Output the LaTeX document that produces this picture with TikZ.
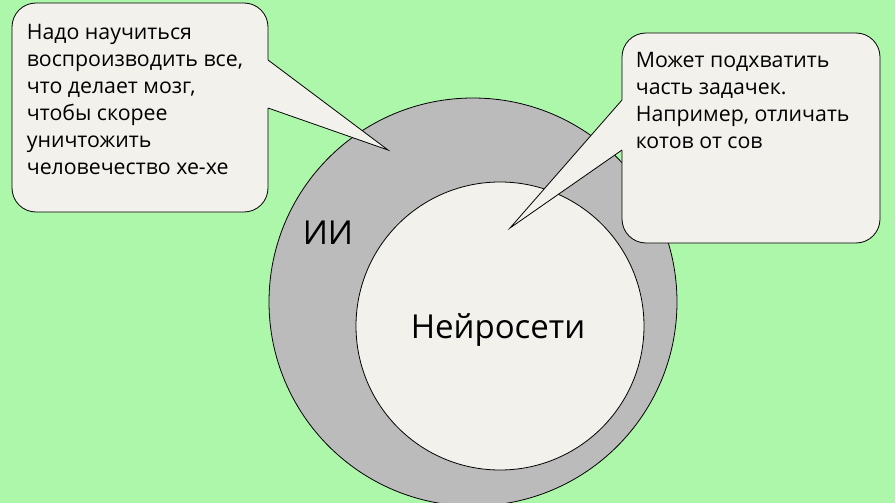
\documentclass[tikz,border=0pt]{standalone}
\usepackage{fontspec}
\setmainfont{Open Sans}
\usetikzlibrary{positioning}
\definecolor{meadow}{RGB}{173,247,170}
\definecolor{ringgray}{RGB}{187,187,187}
\definecolor{paper}{RGB}{242,241,236}
\begin{document}
\begin{tikzpicture}[
                x = 1pt, y = -1pt,
                ring/.style = {draw, circle, line width = 0.8pt, inner sep = 0mm},
                saybox/.style = {draw, fill = paper, line width = 0.8pt, rounded corners = 24pt, inner sep = 0mm},
                saytext/.style = {anchor = north west, align = left, inner sep = 0mm, font = \fontsize{21.3}{27}\selectfont},
                bigtext/.style = {anchor = base, inner sep = 0mm, font = \fontsize{33}{33}\selectfont},
                tail/.style = {draw, line width = 0.8pt, line join = miter},
            ]
            \useasboundingbox[fill = meadow] (0,0) rectangle (895,503);

            \node (ai) [ring, fill = ringgray, minimum size = 408pt] at (473,302) {};
            \node (nets) [ring, fill = paper, minimum size = 288pt] at (500,326) {};
            \node (ailabel) [bigtext] at (328,244) {ИИ};
            \node (netslabel) [bigtext] at (498,338) {Нейросети};

            \node (brainbox) [saybox, minimum width = 256pt, minimum height = 209pt] at (140,107.5) {};
            \node (braintext) [saytext, below right = 21pt and 15pt of brainbox.north west]
                {Надо научиться\\воспроизводить все,\\что делает мозг,\\чтобы скорее\\уничтожить\\человечество хе-хе};
            \coordinate (braintip) at (388,150);
            \fill[paper] (268,60) -- (braintip) -- (268,108) -- (265,108) -- (265,60) -- cycle;
            \path[tail] (268,60) -- (braintip) -- (268,108);

            \node (taskbox) [saybox, minimum width = 258pt, minimum height = 210pt] at (751,138) {};
            \node (tasktext) [saytext, below right = 19pt and 14pt of taskbox.north west]
                {Может подхватить\\часть задачек.\\Например, отличать\\котов от сов};
            \coordinate (tasktip) at (510,228);
            \fill[paper] (622,100) -- (tasktip) -- (622,150) -- (625,150) -- (625,100) -- cycle;
            \path[tail] (622,100) -- (tasktip) -- (622,150);
        \end{tikzpicture}
\end{document}
